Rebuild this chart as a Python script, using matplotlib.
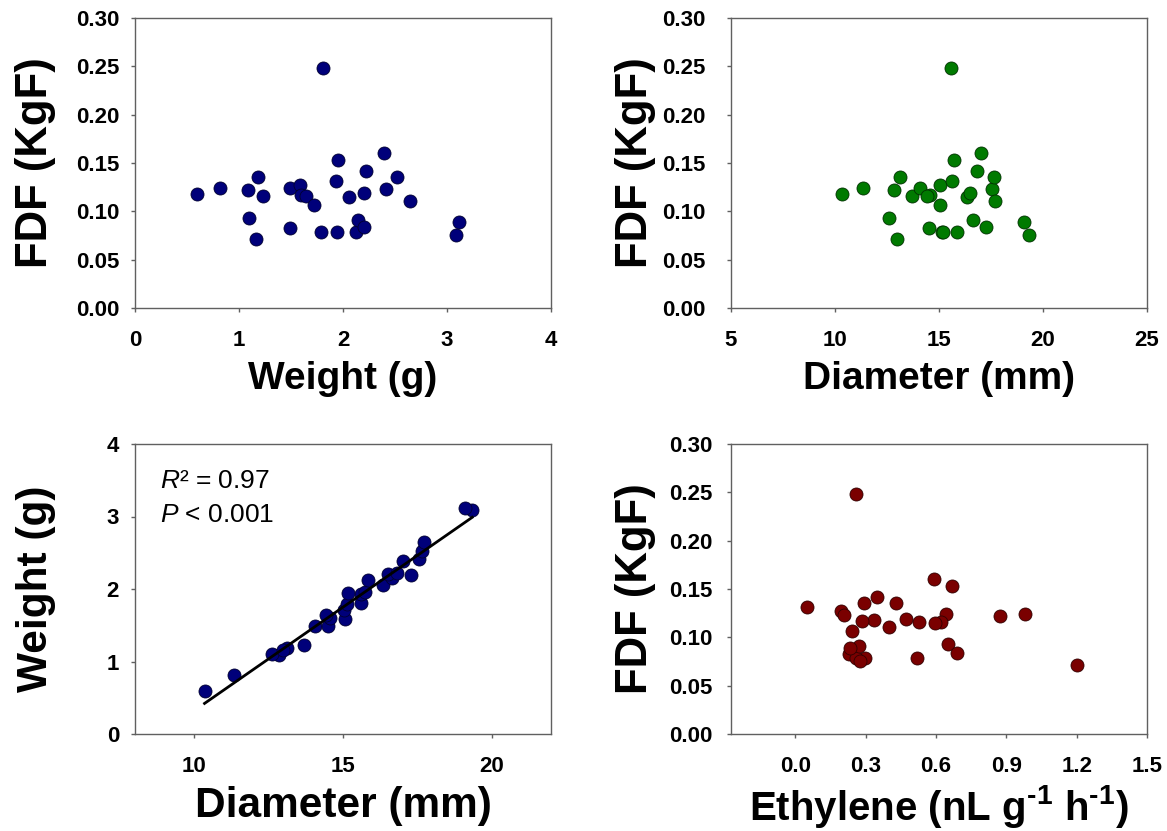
import numpy as np
import matplotlib
matplotlib.use("Agg")
import matplotlib.pyplot as plt

plt.rcParams['font.family'] = ['Liberation Sans', 'DejaVu Sans']
plt.rcParams['mathtext.fontset'] = 'custom'
plt.rcParams['mathtext.rm'] = 'Liberation Sans:bold'
plt.rcParams['mathtext.it'] = 'Liberation Sans:italic'
plt.rcParams['mathtext.bf'] = 'Liberation Sans:bold'

weight = [0.595, 0.82, 1.087, 1.10, 1.183, 1.164, 1.232, 1.486, 1.489, 1.585,
          1.60, 1.643, 1.717, 1.804, 1.791, 1.936, 1.952, 1.939, 2.058, 2.122,
          2.148, 2.199, 2.203, 2.225, 2.392, 2.418, 2.524, 2.643, 3.084, 3.113]
diameter = [10.34, 11.33, 12.83, 12.61, 13.13, 12.97, 13.70, 14.07, 14.50, 15.07,
            14.57, 14.43, 15.04, 15.59, 15.14, 15.62, 15.74, 15.18, 16.36, 15.85,
            16.65, 17.28, 16.50, 16.83, 17.01, 17.55, 17.66, 17.71, 19.35, 19.10]
fdf = [0.118, 0.124, 0.122, 0.093, 0.1355, 0.0717, 0.1155, 0.124, 0.0824, 0.127,
       0.117, 0.1155, 0.1066, 0.248, 0.0783, 0.1317, 0.1534, 0.079, 0.1145, 0.0786,
       0.0914, 0.0841, 0.1186, 0.1414, 0.160, 0.1228, 0.1352, 0.111, 0.0759, 0.0886]
ethylene = [0.334, 0.643, 0.871, 0.65, 0.291, 1.20, 0.526, 0.98, 0.227, 0.196,
            0.286, 0.619, 0.241, 0.26, 0.517, 0.05, 0.666, 0.296, 0.596, 0.257,
            0.271, 0.689, 0.47, 0.347, 0.59, 0.207, 0.427, 0.40, 0.276, 0.233]

fdf_ticks = [0.00, 0.05, 0.10, 0.15, 0.20, 0.25, 0.30]
weight_ticks = [0, 1, 2, 3, 4]
diam_ticks_top = [5, 10, 15, 20, 25]
diam_ticks_bottom = [10, 15, 20]
eth_ticks = [0.0, 0.3, 0.6, 0.9, 1.2, 1.5]
r2_text = r'$\mathit{R}$' + '\u00b2 = 0.97'
p_text = r'$\mathit{P}$' + ' < 0.001'

fig = plt.figure(figsize=(11.67, 8.31), dpi=100)
W, H = 1167, 831
def ax_at(l, t, r, b):
    return fig.add_axes([l / W, 1 - b / H, (r - l) / W, (b - t) / H])

ax1 = ax_at(135, 18, 551, 308)
ax2 = ax_at(731, 18, 1147, 308)
ax3 = ax_at(135, 444, 551, 734)
ax4 = ax_at(731, 444, 1147, 734)

spine_col = '#606060'
def style(ax, ypad=8.5):
    for s in ax.spines.values():
        s.set_color(spine_col)
        s.set_linewidth(1.0)
    ax.tick_params(axis='x', direction='out', length=3, width=1, color=spine_col,
                   labelsize=16, pad=13)
    ax.tick_params(axis='y', direction='out', length=3, width=1, color=spine_col,
                   labelsize=16, pad=ypad)
    for lab in ax.get_xticklabels() + ax.get_yticklabels():
        lab.set_fontweight('bold')

ms = 88
ax1.scatter(weight, fdf, s=ms, c='#00007a', edgecolors='#000030', linewidths=0.6, zorder=3)
ax1.set_xlim(0, 4); ax1.set_ylim(0, 0.30)
ax1.set_xticks(weight_ticks); ax1.set_yticks(fdf_ticks)
ax1.set_yticklabels([f'{v:.2f}' for v in fdf_ticks])
ax1.set_xlabel('Weight (g)', fontsize=28, fontweight='bold', va='top')
ax1.set_ylabel('FDF (KgF)', fontsize=31.5, fontweight='bold')
ax1.xaxis.set_label_coords(0.5, -0.184)
ax1.yaxis.set_label_coords(-0.190, 0.5)

ax2.scatter(diameter, fdf, s=ms, c='#007a00', edgecolors='#003000', linewidths=0.6, zorder=3)
ax2.set_xlim(5, 25); ax2.set_ylim(0, 0.30)
ax2.set_xticks(diam_ticks_top); ax2.set_yticks(fdf_ticks)
ax2.set_yticklabels([f'{v:.2f}' for v in fdf_ticks])
ax2.set_xlabel('Diameter (mm)', fontsize=28, fontweight='bold', va='top')
ax2.set_ylabel('FDF (KgF)', fontsize=31.5, fontweight='bold')
ax2.xaxis.set_label_coords(0.5, -0.184)
ax2.yaxis.set_label_coords(-0.180, 0.5)

ax3.scatter(diameter, weight, s=ms, c='#00007a', edgecolors='#000030', linewidths=0.6, zorder=3)
coef = np.polyfit(diameter, weight, 1)
xl = np.array([min(diameter), max(diameter)])
ax3.plot(xl, np.polyval(coef, xl), color='black', lw=2, zorder=4)
ax3.set_xlim(8, 22); ax3.set_ylim(0, 4)
ax3.set_xticks(diam_ticks_bottom); ax3.set_yticks(weight_ticks)
ax3.set_xlabel('Diameter (mm)', fontsize=30.5, fontweight='bold', va='top')
ax3.set_ylabel('Weight (g)', fontsize=30.5, fontweight='bold')
ax3.xaxis.set_label_coords(0.5, -0.181)
ax3.yaxis.set_label_coords(-0.190, 0.5)
ax3.text(0.06, 0.847, r2_text, transform=ax3.transAxes, fontsize=19)
ax3.text(0.06, 0.730, p_text, transform=ax3.transAxes, fontsize=19)

ax4.scatter(ethylene, fdf, s=ms, c='#7a0000', edgecolors='#300000', linewidths=0.6, zorder=3)
ax4.set_xlim(-0.275, 1.5); ax4.set_ylim(0, 0.30)
ax4.set_xticks(eth_ticks); ax4.set_yticks(fdf_ticks)
ax4.set_xticklabels([f'{v:.1f}' for v in eth_ticks])
ax4.set_yticklabels([f'{v:.2f}' for v in fdf_ticks])
ax4.set_xlabel(r'Ethylene (nL g$^{\text{-1}}$ h$^{\text{-1}}$)', fontsize=29,
               fontweight='bold', va='top')
ax4.set_ylabel('FDF (KgF)', fontsize=31.5, fontweight='bold')
ax4.xaxis.set_label_coords(0.5, -0.168)
ax4.yaxis.set_label_coords(-0.180, 0.5)

style(ax1)
style(ax2, ypad=15.5)
style(ax3)
style(ax4, ypad=10)

fig.savefig('out.png', dpi=100)
